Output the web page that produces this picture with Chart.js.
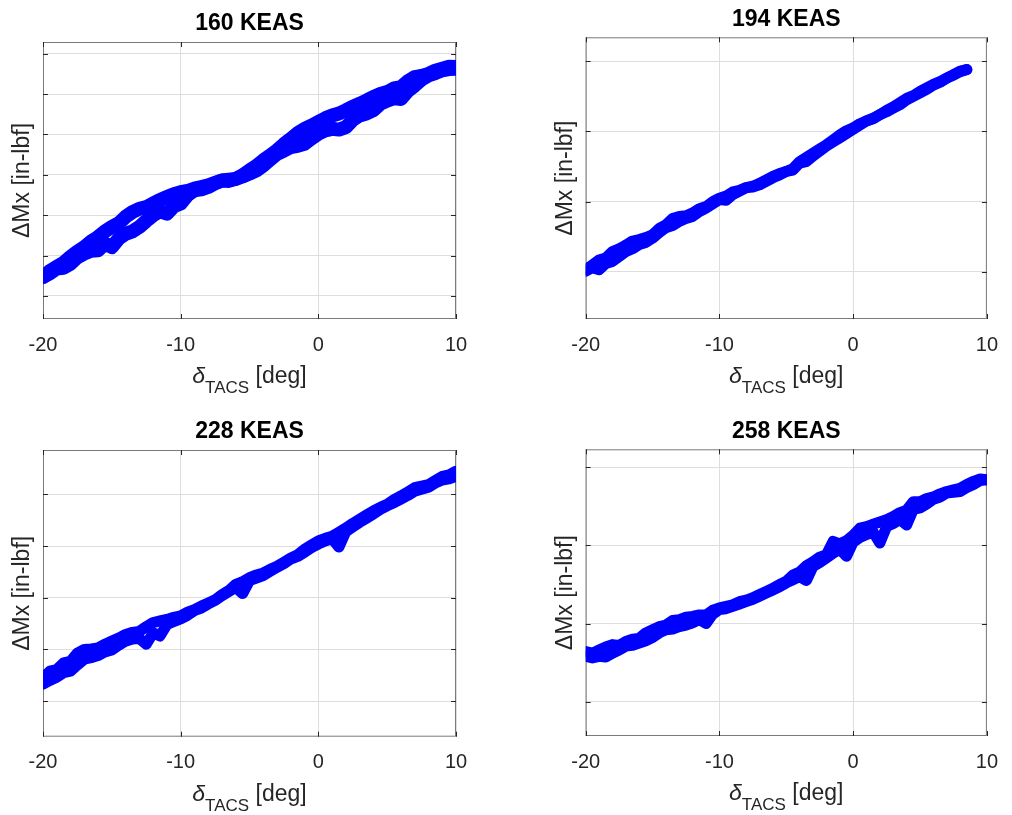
<!DOCTYPE html>
<html>
<head>
<meta charset="utf-8">
<script src="https://cdn.jsdelivr.net/npm/chart.js@4"></script>
<style>
  body { margin: 0; background: #fff; }
  #wrap { position: relative; width: 1012px; height: 815px; }
  #wrap canvas { position: absolute; }
</style>
</head>
<body>
<div id="wrap">
  <canvas id="c160" width="506" height="407" style="left:0;top:0"></canvas>
  <canvas id="c194" width="506" height="407" style="left:506px;top:0"></canvas>
  <canvas id="c228" width="506" height="408" style="left:0;top:407px"></canvas>
  <canvas id="c258" width="506" height="408" style="left:506px;top:407px"></canvas>
</div>
<script>
// TACS deflection sweep (deg), shared by all panels
const deltaTacs = [
  -20, -19.5, -19, -18.5, -18, -17.5, -17, -16.5, -16, -15.5,
  -15, -14.5, -14, -13.5, -13, -12.5, -12, -11.5, -11, -10.5,
  -10, -9.5, -9, -8.5, -8, -7.5, -7, -6.5, -6, -5.5,
  -5, -4.5, -4, -3.5, -3, -2.5, -2, -1.5, -1, -0.5,
  0, 0.5, 1, 1.5, 2, 2.5, 3, 3.5, 4, 4.5,
  5, 5.5, 6, 6.5, 7, 7.5, 8, 8.5, 9, 9.5, 10
];
const xTicks = [-20, -10, 0, 10];

// delta Mx, in grid units (the source has no y tick labels)
const mx160Up = [
  0.47, 0.62, 0.72, 0.82, 0.97, 1.10, 1.21, 1.35, 1.46, 1.60,
  1.71, 1.80, 1.96, 2.08, 2.16, 2.20, 2.29, 2.38, 2.45, 2.52,
  2.57, 2.60, 2.66, 2.70, 2.74, 2.80, 2.86, 2.88, 2.90, 2.99,
  3.11, 3.22, 3.36, 3.48, 3.61, 3.76, 3.89, 4.03, 4.14, 4.22,
  4.31, 4.40, 4.47, 4.52, 4.60, 4.69, 4.76, 4.84, 4.93, 5.00,
  5.05, 5.14, 5.17, 5.32, 5.42, 5.45, 5.50, 5.58, 5.63, 5.68, 5.67
];
const mx160Down = [
  0.47, 0.56, 0.68, 0.70, 0.80, 0.96, 1.05, 1.12, 1.13, 1.30,
  1.21, 1.42, 1.54, 1.60, 1.71, 1.86, 2.00, 2.10, 2.04, 2.22,
  2.29, 2.50, 2.62, 2.64, 2.70, 2.79, 2.86, 2.85, 2.90, 2.96,
  3.03, 3.11, 3.23, 3.38, 3.52, 3.60, 3.69, 3.72, 3.77, 3.90,
  4.02, 4.10, 4.14, 4.12, 4.18, 4.36, 4.47, 4.52, 4.60, 4.76,
  4.84, 4.90, 4.88, 5.08, 5.21, 5.36, 5.46, 5.52, 5.59, 5.62, 5.63
];
const mx194Up = [
  0.03, 0.10, 0.17, 0.20, 0.29, 0.33, 0.38, 0.44, 0.46, 0.49,
  0.53, 0.62, 0.67, 0.76, 0.79, 0.80, 0.84, 0.90, 0.93, 1.00,
  1.05, 1.08, 1.14, 1.16, 1.20, 1.22, 1.26, 1.31, 1.36, 1.40,
  1.43, 1.47, 1.57, 1.63, 1.69, 1.75, 1.81, 1.88, 1.95, 2.01,
  2.05, 2.11, 2.15, 2.19, 2.24, 2.30, 2.35, 2.41, 2.47, 2.51,
  2.57, 2.62, 2.67, 2.71, 2.76, 2.81, 2.86, 2.88, null, null, null
];
const mx194Down = [
  0.01, 0.06, 0.03, 0.12, 0.15, 0.22, 0.29, 0.33, 0.39, 0.42,
  0.48, 0.56, 0.63, 0.66, 0.72, 0.76, 0.79, 0.86, 0.91, 0.97,
  1.03, 1.02, 1.10, 1.15, 1.20, 1.21, 1.24, 1.29, 1.34, 1.38,
  1.43, 1.45, 1.55, 1.57, 1.65, 1.72, 1.79, 1.85, 1.91, 1.97,
  2.03, 2.09, 2.15, 2.18, 2.24, 2.28, 2.33, 2.38, 2.45, 2.50,
  2.55, 2.60, 2.66, 2.70, 2.76, 2.80, 2.85, 2.88, null, null, null
];
const mx228Up = [
  0.45, 0.58, 0.61, 0.74, 0.77, 0.93, 1.00, 1.01, 1.03, 1.10,
  1.16, 1.22, 1.29, 1.33, 1.35, 1.44, 1.52, 1.55, 1.58, 1.62,
  1.65, 1.72, 1.77, 1.84, 1.90, 1.96, 2.06, 2.14, 2.26, 2.31,
  2.39, 2.44, 2.48, 2.55, 2.61, 2.69, 2.77, 2.83, 2.94, 3.02,
  3.10, 3.15, 3.19, 3.27, 3.35, 3.44, 3.52, 3.60, 3.68, 3.75,
  3.81, 3.90, 3.97, 4.05, 4.13, 4.16, 4.19, 4.27, 4.35, 4.38, 4.45
];
const mx228Down = [
  0.33, 0.40, 0.46, 0.55, 0.58, 0.70, 0.81, 0.84, 0.88, 0.95,
  0.99, 1.08, 1.16, 1.20, 1.21, 1.10, 1.32, 1.26, 1.48, 1.54,
  1.59, 1.66, 1.75, 1.80, 1.88, 1.95, 2.04, 2.12, 2.20, 2.08,
  2.33, 2.38, 2.43, 2.51, 2.59, 2.66, 2.75, 2.80, 2.88, 2.97,
  3.04, 3.10, 3.14, 2.98, 3.28, 3.37, 3.46, 3.54, 3.62, 3.71,
  3.78, 3.84, 3.91, 3.98, 4.06, 4.10, 4.14, 4.22, 4.28, 4.30, 4.35
];
const mx258Up = [
  0.64, 0.62, 0.66, 0.70, 0.73, 0.72, 0.77, 0.80, 0.81, 0.88,
  0.92, 0.96, 0.98, 1.04, 1.05, 1.08, 1.09, 1.11, 1.11, 1.17,
  1.20, 1.22, 1.24, 1.28, 1.30, 1.33, 1.37, 1.41, 1.45, 1.50,
  1.54, 1.62, 1.66, 1.74, 1.79, 1.85, 1.88, 2.05, 2.02, 2.06,
  2.13, 2.22, 2.24, 2.27, 2.30, 2.33, 2.37, 2.42, 2.45, 2.56,
  2.56, 2.60, 2.62, 2.66, 2.69, 2.71, 2.73, 2.78, 2.82, 2.85, 2.84
];
const mx258Down = [
  0.58, 0.56, 0.58, 0.57, 0.62, 0.66, 0.71, 0.72, 0.75, 0.78,
  0.82, 0.88, 0.92, 0.93, 0.96, 0.98, 1.01, 1.05, 1.00, 1.12,
  1.18, 1.19, 1.22, 1.25, 1.28, 1.31, 1.35, 1.39, 1.43, 1.47,
  1.52, 1.56, 1.60, 1.55, 1.73, 1.78, 1.84, 1.90, 1.95, 1.86,
  2.04, 2.10, 2.14, 2.17, 2.03, 2.24, 2.28, 2.33, 2.26, 2.46,
  2.48, 2.53, 2.59, 2.62, 2.67, 2.68, 2.69, 2.74, 2.78, 2.83, 2.84
];

const yGrid160 = [0, 1, 2, 3, 4, 5, 6];
const yGrid194 = [0, 1, 2, 3];
const yGrid228 = [0, 1, 2, 3, 4];
const yGrid258 = [0, 1, 2, 3];

const FONT = "'Liberation Sans', Arial, Helvetica, sans-serif";
const AXIS_GREY = '#262626';

// draws the matlab style box, inner tick marks and the subscripted x label
const matlabAxes = {
  id: 'matlabAxes',
  beforeDatasetsDraw(chart) {
    const { ctx, chartArea: a, scales: { x, y } } = chart;
    ctx.save();
    ctx.strokeStyle = '#7a7a7a';
    ctx.lineWidth = 1;
    ctx.strokeRect(a.left + 0.5, a.top + 0.5, a.right - a.left - 1, a.bottom - a.top - 1);
    ctx.strokeStyle = AXIS_GREY;
    ctx.beginPath();
    x.ticks.forEach(t => {
      const px = Math.round(x.getPixelForValue(t.value)) + 0.5;
      ctx.moveTo(px, a.bottom); ctx.lineTo(px, a.bottom - 5);
      ctx.moveTo(px, a.top); ctx.lineTo(px, a.top + 5);
    });
    y.ticks.forEach(t => {
      const py = Math.round(y.getPixelForValue(t.value)) + 0.5;
      ctx.moveTo(a.left, py); ctx.lineTo(a.left + 5, py);
      ctx.moveTo(a.right, py); ctx.lineTo(a.right - 5, py);
    });
    ctx.stroke();
    ctx.restore();
  },
  afterDraw(chart) {
    const { ctx, chartArea: a } = chart;
    const big = '23px ' + FONT, small = '17px ' + FONT, ital = 'italic 23px ' + FONT;
    ctx.save();
    ctx.fillStyle = AXIS_GREY;
    ctx.textBaseline = 'alphabetic';
    ctx.font = ital; const w1 = ctx.measureText('δ').width;
    ctx.font = small; const w2 = ctx.measureText('TACS').width;
    ctx.font = big; const w3 = ctx.measureText(' [deg]').width;
    let cx = (a.left + a.right) / 2 - (w1 + w2 + w3) / 2;
    const base = a.bottom + 64;
    ctx.font = ital; ctx.fillText('δ', cx, base); cx += w1;
    ctx.font = small; ctx.fillText('TACS', cx, base + 10); cx += w2;
    ctx.font = big; ctx.fillText(' [deg]', cx, base);
    ctx.restore();
  }
};

function makePanel(id, title, up, down, yGrid, yMin, yMax, box, lineW) {
  const canvas = document.getElementById(id);
  const W = canvas.width, H = canvas.height;
  const toPts = arr => deltaTacs.map((x, i) => ({ x: x, y: arr[i] }));
  const line = arr => ({
    data: toPts(arr),
    borderColor: '#0000ff',
    borderWidth: lineW,
    pointRadius: 0,
    tension: 0,
    borderJoinStyle: 'round',
    borderCapStyle: 'round',
    spanGaps: false
  });
  return new Chart(canvas, {
    type: 'line',
    data: { datasets: [line(up), line(down)] },
    options: {
      responsive: false,
      animation: false,
      devicePixelRatio: 1,
      layout: { padding: { left: box.left - 43, right: W - box.right, top: 0, bottom: 0 } },
      plugins: {
        legend: { display: false },
        tooltip: { enabled: false },
        title: {
          display: true,
          fullSize: false,
          text: title,
          color: '#000',
          font: { family: FONT, size: 23, weight: 'bold' },
          padding: { top: box.top - 31.8, bottom: 4.2 }
        }
      },
      scales: {
        x: {
          type: 'linear',
          min: -20,
          max: 10,
          afterBuildTicks: s => { s.ticks = xTicks.map(v => ({ value: v })); },
          afterFit: s => { s.height = H - box.bottom; },
          ticks: { color: AXIS_GREY, font: { family: FONT, size: 20 }, padding: 14 },
          grid: { color: '#dedede', drawTicks: false },
          border: { display: false }
        },
        y: {
          min: yMin,
          max: yMax,
          afterBuildTicks: s => { s.ticks = yGrid.map(v => ({ value: v })); },
          afterFit: s => { s.width = 43; },
          ticks: { display: false },
          grid: { color: '#dedede', drawTicks: false },
          border: { display: false },
          title: {
            display: true,
            text: 'ΔMx [in-lbf]',
            color: AXIS_GREY,
            font: { family: FONT, size: 23 },
            padding: { top: 9, bottom: 0 }
          }
        }
      }
    },
    plugins: [matlabAxes]
  });
}

makePanel('c160', '160 KEAS', mx160Up, mx160Down, yGrid160, -0.57, 6.29,
  { left: 43, right: 456, top: 42, bottom: 319 }, 14);
makePanel('c194', '194 KEAS', mx194Up, mx194Down, yGrid194, -0.67, 3.34,
  { left: 79.7, right: 491.7, top: 37.3, bottom: 319 }, 11);
makePanel('c228', '228 KEAS', mx228Up, mx228Down, yGrid228, -0.69, 4.86,
  { left: 43, right: 456, top: 43, bottom: 329.7 }, 11);
makePanel('c258', '258 KEAS', mx258Up, mx258Down, yGrid258, -0.44, 3.23,
  { left: 79.7, right: 491.7, top: 42.3, bottom: 329 }, 11);
</script>
</body>
</html>
